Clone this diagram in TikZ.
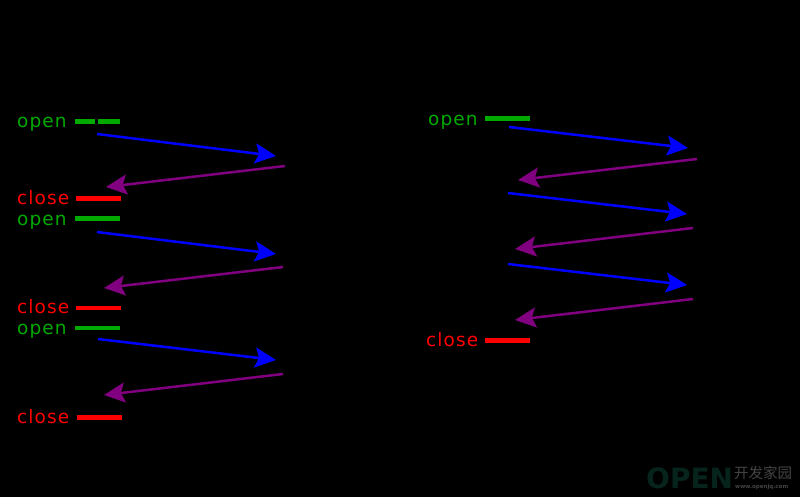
\documentclass[tikz,border=0pt]{standalone}
\usepackage{fontspec}
\setmainfont{DejaVu Sans}[LetterSpace=6]
\newfontfamily\cjkwm{Noto Sans CJK SC}
\newfontfamily\wmfont{DejaVu Sans}
\usetikzlibrary{arrows.meta}
\definecolor{opengreen}{RGB}{0,170,0}
\definecolor{closered}{RGB}{255,0,0}
\definecolor{msgblue}{RGB}{0,0,255}
\definecolor{msgpurple}{RGB}{128,0,128}
\definecolor{wmdark}{RGB}{6,36,28}
\definecolor{wmgrey}{RGB}{68,68,68}
\tikzset{
  x=1pt,y=-1pt,
  lbl/.style={anchor=base west,inner sep=0pt,font=\fontsize{18.5}{21}\selectfont},
  openlbl/.style={lbl,text=opengreen},
  closelbl/.style={lbl,text=closered},
  openbar/.style={draw=opengreen,line width=4.8pt},
  closebar/.style={draw=closered,line width=4.8pt},
  reqarrow/.style={draw=msgblue,line width=2.5pt,-{Stealth[length=21pt,width=20pt,inset=4pt]}},
  resarrow/.style={draw=msgpurple,line width=2.5pt,-{Stealth[length=21pt,width=20pt,inset=4pt]}},
}
\begin{document}
\begin{tikzpicture}
\fill[black] (0,0) rectangle (800,497);
\useasboundingbox (0,0) rectangle (800,497);
% left column labels
\node[openlbl] (lo1) at (17,127.5) {open};
\node[closelbl] (lc1) at (17,204.5) {close};
\node[openlbl] (lo2) at (17,225.5) {open};
\node[closelbl] (lc2) at (17,313.5) {close};
\node[openlbl] (lo3) at (17,334.5) {open};
\node[closelbl] (lc3) at (17,423.5) {close};
% right column labels
\node[openlbl] (ro1) at (428,125.5) {open};
\node[closelbl] (rc1) at (426,346.5) {close};
% bars
\draw[openbar] (75,121.5) -- (95,121.5) (98,121.5) -- (120,121.5);
\draw[closebar] (76,198.5) -- (121,198.5);
\draw[openbar] (75,218.5) -- (120,218.5);
\draw[closebar] (76,308) -- (121,308);
\draw[openbar] (75,328) -- (120,328);
\draw[closebar] (77,417.5) -- (122,417.5);
\draw[openbar] (485,118.5) -- (530,118.5);
\draw[closebar] (485,340.5) -- (530,340.5);
% arrow end points
\coordinate (a1s) at (97,134); \coordinate (a1e) at (276,156);
\coordinate (b1s) at (285,166); \coordinate (b1e) at (106,187);
\coordinate (a2s) at (97,232); \coordinate (a2e) at (276,254);
\coordinate (b2s) at (283,267); \coordinate (b2e) at (104,288);
\coordinate (a3s) at (98,339); \coordinate (a3e) at (276,360);
\coordinate (b3s) at (283,374); \coordinate (b3e) at (104,395);
\coordinate (c1s) at (509,127); \coordinate (c1e) at (688,148);
\coordinate (d1s) at (697,159); \coordinate (d1e) at (518,180);
\coordinate (c2s) at (508,193); \coordinate (c2e) at (687,214);
\coordinate (d2s) at (693,228); \coordinate (d2e) at (515,249);
\coordinate (c3s) at (508,264); \coordinate (c3e) at (687,285);
\coordinate (d3s) at (693,299); \coordinate (d3e) at (515,320);
\foreach \s/\e in {a1s/a1e,a2s/a2e,a3s/a3e,c1s/c1e,c2s/c2e,c3s/c3e}
  \draw[reqarrow] (\s) -- (\e);
\foreach \s/\e in {b1s/b1e,b2s/b2e,b3s/b3e,d1s/d1e,d2s/d2e,d3s/d3e}
  \draw[resarrow] (\s) -- (\e);
% watermark
\node[anchor=base west,inner sep=0pt,text=wmdark] (wm) at (646,488) {\wmfont\fontsize{28}{30}\bfseries\selectfont OPEN};
\node[anchor=base west,inner sep=0pt,text=wmgrey] (wmc) at (734,478) {\cjkwm\fontsize{14.5}{16}\selectfont 开发家园};
\node[anchor=base west,inner sep=0pt,text=wmgrey] (wmu) at (735,488) {\wmfont\fontsize{5.5}{6}\bfseries\selectfont www.openjq.com};
\end{tikzpicture}
\end{document}
